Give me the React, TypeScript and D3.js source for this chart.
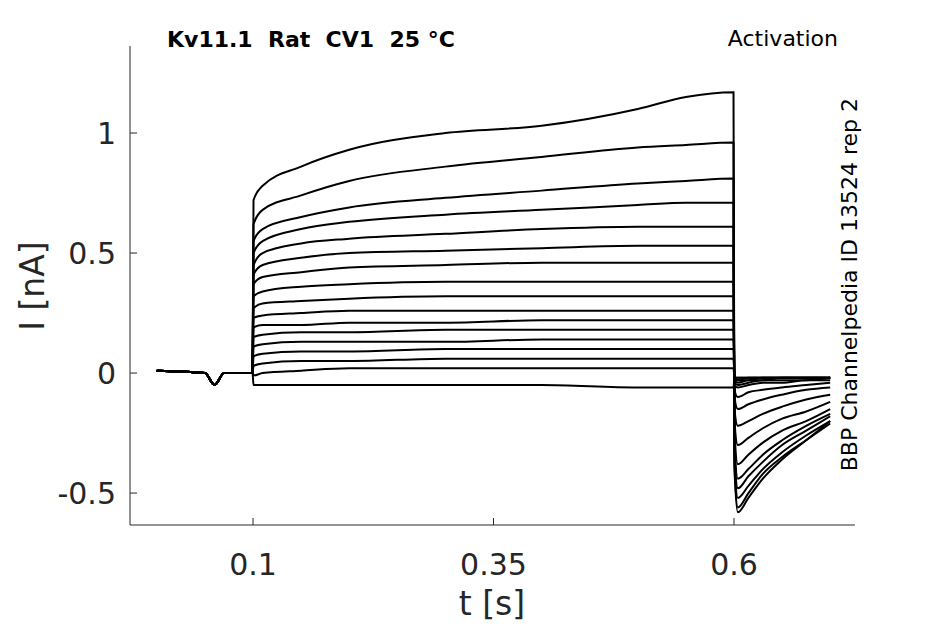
import React from 'react';
import * as d3 from 'd3';

// sample times (s)
const preTimes = [0, 0.05, 0.06, 0.07, 0.0995];
const preValues = [0.01, 0.0, -0.05, 0.0, 0.0];
const stepTimes = [0.1005, 0.11, 0.15, 0.2, 0.3, 0.4, 0.5, 0.55, 0.5995];
const tailTimes = [0.6005, 0.604, 0.615, 0.63, 0.65, 0.675, 0.7];

// currents during the step (nA), one row per trace
const stepValues = [
  [0.72, 0.78, 0.86, 0.93, 1.0, 1.03, 1.1, 1.15, 1.17],
  [0.62, 0.68, 0.74, 0.8, 0.86, 0.9, 0.94, 0.95, 0.96],
  [0.55, 0.6, 0.65, 0.69, 0.73, 0.76, 0.79, 0.8, 0.81],
  [0.5, 0.55, 0.6, 0.63, 0.66, 0.68, 0.7, 0.71, 0.71],
  [0.45, 0.5, 0.54, 0.56, 0.58, 0.6, 0.61, 0.61, 0.61],
  [0.41, 0.45, 0.48, 0.5, 0.51, 0.52, 0.53, 0.53, 0.53],
  [0.37, 0.4, 0.42, 0.44, 0.45, 0.46, 0.46, 0.46, 0.46],
  [0.32, 0.34, 0.36, 0.37, 0.38, 0.38, 0.38, 0.38, 0.38],
  [0.27, 0.29, 0.3, 0.31, 0.32, 0.32, 0.32, 0.32, 0.32],
  [0.23, 0.24, 0.25, 0.26, 0.26, 0.26, 0.26, 0.26, 0.26],
  [0.19, 0.2, 0.2, 0.21, 0.21, 0.22, 0.22, 0.22, 0.22],
  [0.15, 0.16, 0.17, 0.17, 0.18, 0.18, 0.18, 0.18, 0.18],
  [0.11, 0.12, 0.13, 0.13, 0.13, 0.14, 0.14, 0.14, 0.14],
  [0.07, 0.08, 0.09, 0.09, 0.1, 0.1, 0.1, 0.1, 0.1],
  [0.03, 0.04, 0.05, 0.05, 0.06, 0.06, 0.06, 0.06, 0.06],
  [-0.01, 0.0, 0.01, 0.02, 0.02, 0.02, 0.02, 0.02, 0.02],
  [-0.05, -0.05, -0.05, -0.05, -0.05, -0.05, -0.06, -0.06, -0.06],
];

// tail currents after the step (nA)
const tailValues = [
  [-0.4, -0.58, -0.52, -0.44, -0.36, -0.28, -0.2],
  [-0.38, -0.56, -0.5, -0.42, -0.35, -0.28, -0.21],
  [-0.35, -0.52, -0.47, -0.4, -0.33, -0.26, -0.2],
  [-0.32, -0.48, -0.43, -0.37, -0.3, -0.24, -0.18],
  [-0.28, -0.44, -0.4, -0.34, -0.28, -0.22, -0.17],
  [-0.24, -0.38, -0.34, -0.29, -0.24, -0.2, -0.15],
  [-0.2, -0.3, -0.27, -0.23, -0.19, -0.16, -0.12],
  [-0.15, -0.22, -0.2, -0.17, -0.14, -0.11, -0.09],
  [-0.1, -0.15, -0.13, -0.11, -0.09, -0.07, -0.06],
  [-0.07, -0.1, -0.08, -0.07, -0.06, -0.05, -0.04],
  [-0.05, -0.06, -0.05, -0.04, -0.04, -0.03, -0.03],
  [-0.04, -0.05, -0.04, -0.03, -0.03, -0.03, -0.02],
  [-0.03, -0.04, -0.03, -0.03, -0.02, -0.02, -0.02],
  [-0.03, -0.03, -0.03, -0.02, -0.02, -0.02, -0.02],
  [-0.02, -0.03, -0.02, -0.02, -0.02, -0.02, -0.02],
  [-0.02, -0.02, -0.02, -0.02, -0.02, -0.02, -0.02],
  [-0.02, -0.02, -0.02, -0.02, -0.02, -0.02, -0.02],
];

const xTicks = [0.1, 0.35, 0.6];
const yTicks = [-0.5, 0, 0.5, 1];

const W = 945;
const H = 624;
const font = 'DejaVu Sans, sans-serif';

export default function App() {
  const x = d3.scaleLinear().domain([-0.0279, 0.7258]).range([130, 855]);
  const y = d3.scaleLinear().domain([-0.633, 1.3625]).range([525, 46]);
  const line = d3
    .line<[number, number]>()
    .x((d) => x(d[0]))
    .y((d) => y(d[1]))
    .curve(d3.curveMonotoneX);

  const traces = stepValues.map((sv, i) => {
    const pts: [number, number][] = [];
    preTimes.forEach((t, j) => pts.push([t, preValues[j]]));
    stepTimes.forEach((t, j) => pts.push([t, sv[j]]));
    tailTimes.forEach((t, j) => pts.push([t, tailValues[i][j]]));
    return pts;
  });

  return (
    <svg width={W} height={H} style={{ position: 'absolute', left: 0, top: 0 }}>
      <rect width={W} height={H} fill="#fff" />
      {traces.map((p, i) => (
        <path key={i} d={line(p) || ''} fill="none" stroke="#000" strokeWidth={2} />
      ))}
      <line x1={130} x2={130} y1={46} y2={525} stroke="#262626" />
      <line x1={130} x2={855} y1={525} y2={525} stroke="#262626" />
      {xTicks.map((t) => (
        <g key={t}>
          <line x1={x(t)} x2={x(t)} y1={525} y2={518} stroke="#262626" />
          <text x={x(t)} y={575} fontSize={30} fontFamily={font} textAnchor="middle" fill="#262626">
            {t}
          </text>
        </g>
      ))}
      {yTicks.map((t) => (
        <g key={t}>
          <line x1={130} x2={137} y1={y(t)} y2={y(t)} stroke="#262626" />
          <text x={116} y={y(t) + 11} fontSize={30} fontFamily={font} textAnchor="end" fill="#262626">
            {t}
          </text>
        </g>
      ))}
      <text x={492} y={615} fontSize={33} fontFamily={font} textAnchor="middle" fill="#262626">
        t [s]
      </text>
      <text
        transform={`translate(44,286) rotate(-90)`}
        fontSize={33}
        fontFamily={font}
        textAnchor="middle"
        fill="#262626"
      >
        I [nA]
      </text>
      <text x={167} y={47} fontSize={22} fontWeight="bold" fontFamily={font} style={{ whiteSpace: 'pre' }}>
        {'Kv11.1  Rat  CV1  25 °C'}
      </text>
      <text x={838} y={46} fontSize={22} fontFamily={font} textAnchor="end">
        Activation
      </text>
      <text
        transform={`translate(857,98) rotate(-90)`}
        fontSize={22}
        fontFamily={font}
        textAnchor="end"
      >
        BBP Channelpedia ID 13524 rep 2
      </text>
    </svg>
  );
}
